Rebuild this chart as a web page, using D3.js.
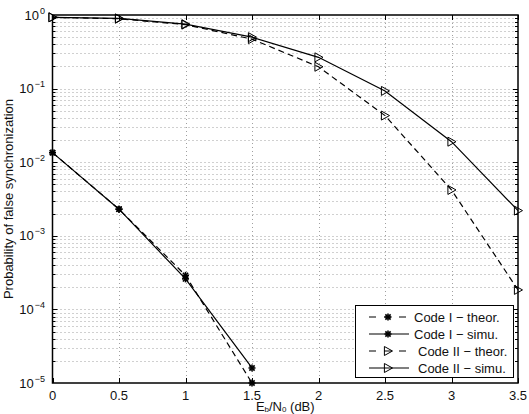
<!DOCTYPE html>
<html>
<head>
<meta charset="utf-8">
<script src="https://cdn.jsdelivr.net/npm/d3@7/dist/d3.min.js"></script>
<style>
  body { margin: 0; background: #fff; }
  svg { display: block; font-family: "Liberation Sans", Arial, sans-serif; }
  .tick-label { font-size: 13px; fill: #111; }
  .grid { stroke: #a0a0a0; stroke-width: 1; stroke-dasharray: 1,3; fill: none; }
</style>
</head>
<body>
<svg id="chart" width="529" height="414"></svg>
<script>
// values
const xTicks = [0, 0.5, 1, 1.5, 2, 2.5, 3, 3.5];
const xTickLabels = ['0', '0.5', '1', '1.5', '2', '2.5', '3', '3.5'];
const yExponents = [0, -1, -2, -3, -4, -5];

const snrCode1 = [0, 0.5, 1, 1.5];
const code1Theor = [0.0135, 0.0023, 2.9e-4, 1.0e-5];
const code1Simu = [0.0135, 0.0023, 2.6e-4, 1.6e-5];

const snrCode2 = [0, 0.5, 1, 1.5, 2, 2.5, 3, 3.5];
const code2Theor = [0.93, 0.89, 0.74, 0.47, 0.198, 0.043, 0.0042, 1.84e-4];
const code2Simu = [0.93, 0.90, 0.75, 0.50, 0.266, 0.093, 0.019, 0.0022];

const legendNames = ['Code I \u2212 theor.', 'Code I \u2212 simu.', 'Code II \u2212 theor.', 'Code II \u2212 simu.'];

let svg = d3.select('#chart');

let pLeft = 52.5, pRight = 518, pTop = 15, pBottom = 383;

const x = d3.scaleLinear().domain([0, 3.5]).range([pLeft, pRight]);
const y = d3.scaleLog().domain([1e-5, 1]).range([pBottom, pTop]);

// grid
let grid = svg.append('g');
xTicks.slice(1, -1).forEach(function(t) {
  grid.append('line').attr('class', 'grid')
    .attr('x1', Math.round(x(t)) + 0.5).attr('x2', Math.round(x(t)) + 0.5)
    .attr('y1', pTop).attr('y2', pBottom);
});
let minorY = [];
for (let e = -5; e < 0; e++) {
  for (let m = 1; m <= 9; m++) {
    let v = m * Math.pow(10, e);
    if (v > 1e-5 && v < 1) minorY.push(v);
  }
}
minorY.forEach(function(v) {
  grid.append('line').attr('class', 'grid')
    .attr('x1', pLeft).attr('x2', pRight)
    .attr('y1', Math.round(y(v)) + 0.5).attr('y2', Math.round(y(v)) + 0.5);
});

// ticks on all sides
let ticks = svg.append('g').attr('stroke', '#000').attr('stroke-width', 1);
xTicks.forEach(function(t) {
  let px = Math.round(x(t)) + 0.5;
  ticks.append('line').attr('x1', px).attr('x2', px).attr('y1', pBottom).attr('y2', pBottom - 5);
  ticks.append('line').attr('x1', px).attr('x2', px).attr('y1', pTop).attr('y2', pTop + 5);
});
minorY.forEach(function(v) {
  let py = Math.round(y(v)) + 0.5;
  let len = Math.abs(Math.log10(v) - Math.round(Math.log10(v))) < 1e-9 ? 5 : 3;
  ticks.append('line').attr('x1', pLeft).attr('x2', pLeft + len).attr('y1', py).attr('y2', py);
  ticks.append('line').attr('x1', pRight).attr('x2', pRight - len).attr('y1', py).attr('y2', py);
});

// axes box
svg.append('rect')
  .attr('x', pLeft).attr('y', pTop)
  .attr('width', pRight - pLeft).attr('height', pBottom - pTop)
  .attr('fill', 'none').attr('stroke', '#000').attr('stroke-width', 1.5);

// tick labels
svg.append('g').selectAll('text')
  .data(xTicks)
  .enter()
  .append('text')
  .attr('class', 'tick-label')
  .attr('x', d => x(d))
  .attr('y', 400)
  .attr('text-anchor', 'middle')
  .text((d, i) => xTickLabels[i]);

let yl = svg.append('g').selectAll('text')
  .data(yExponents)
  .enter()
  .append('text')
  .attr('class', 'tick-label')
  .attr('x', 45)
  .attr('y', d => y(Math.pow(10, d)) + 4.5)
  .attr('text-anchor', 'end');
yl.append('tspan').text('10');
yl.append('tspan').attr('dx', 1).attr('dy', -6).style('font-size', '9px')
  .text(d => d === 0 ? '0' : '\u2212' + Math.abs(d));

// axis labels
let xlab = svg.append('text').attr('class', 'tick-label')
  .attr('x', (pLeft + pRight) / 2).attr('y', 410.5).attr('text-anchor', 'middle');
xlab.append('tspan').text('E');
xlab.append('tspan').attr('dy', 1.5).style('font-size', '8px').text('b');
xlab.append('tspan').attr('dy', -1.5).text('/N');
xlab.append('tspan').attr('dy', 1.5).style('font-size', '8px').text('0');
xlab.append('tspan').attr('dy', -1.5).text(' (dB)');

svg.append('text').attr('class', 'tick-label')
  .attr('transform', `translate(13,${(pTop + pBottom) / 2}) rotate(-90)`)
  .attr('text-anchor', 'middle')
  .text('Probability of false synchronization');

// series
const line = d3.line().x(d => x(d[0])).y(d => y(d[1]));

function star(g, cx, cy) {
  let r = 3.5;
  let s = g.append('g').attr('stroke', '#000').attr('stroke-width', 1.6);
  s.append('line').attr('x1', cx - r).attr('x2', cx + r).attr('y1', cy).attr('y2', cy);
  s.append('line').attr('x1', cx).attr('x2', cx).attr('y1', cy - r).attr('y2', cy + r);
  s.append('line').attr('x1', cx - r * 0.75).attr('x2', cx + r * 0.75).attr('y1', cy - r * 0.75).attr('y2', cy + r * 0.75);
  s.append('line').attr('x1', cx - r * 0.75).attr('x2', cx + r * 0.75).attr('y1', cy + r * 0.75).attr('y2', cy - r * 0.75);
}
function tri(g, cx, cy) {
  let r = 4.5;
  g.append('path')
    .attr('d', `M${cx - r * 0.8},${cy - r}L${cx + r},${cy}L${cx - r * 0.8},${cy + r}Z`)
    .attr('fill', 'none').attr('stroke', '#000').attr('stroke-width', 1);
}

const series = [
  { xs: snrCode1, ys: code1Theor, dash: '6,4', marker: star },
  { xs: snrCode1, ys: code1Simu, dash: null, marker: star },
  { xs: snrCode2, ys: code2Theor, dash: '6,4', marker: tri },
  { xs: snrCode2, ys: code2Simu, dash: null, marker: tri }
];

let plot = svg.append('g');
series.forEach(function(s) {
  let pts = s.xs.map((v, i) => [v, s.ys[i]]);
  plot.append('path')
    .attr('d', line(pts))
    .attr('fill', 'none').attr('stroke', '#000').attr('stroke-width', 1.2)
    .attr('stroke-dasharray', s.dash);
  pts.forEach(p => s.marker(plot, x(p[0]), y(p[1])));
});

// legend
let lg = svg.append('g');
lg.append('rect').attr('x', 355.5).attr('y', 305.5).attr('width', 158).attr('height', 72)
  .attr('fill', '#fff').attr('stroke', '#000').attr('stroke-width', 1);
let rowY = [317, 334, 351, 368];
let textX = [414, 414, 418, 418];
series.forEach(function(s, i) {
  lg.append('line').attr('x1', 369).attr('x2', 409).attr('y1', rowY[i]).attr('y2', rowY[i])
    .attr('stroke', '#000').attr('stroke-width', 1.2).attr('stroke-dasharray', s.dash ? '7,8' : null);
  s.marker(lg, 388, rowY[i]);
  lg.append('text').attr('class', 'tick-label')
    .attr('x', textX[i]).attr('y', rowY[i] + 4.5)
    .text(legendNames[i]);
});
</script>
</body>
</html>
